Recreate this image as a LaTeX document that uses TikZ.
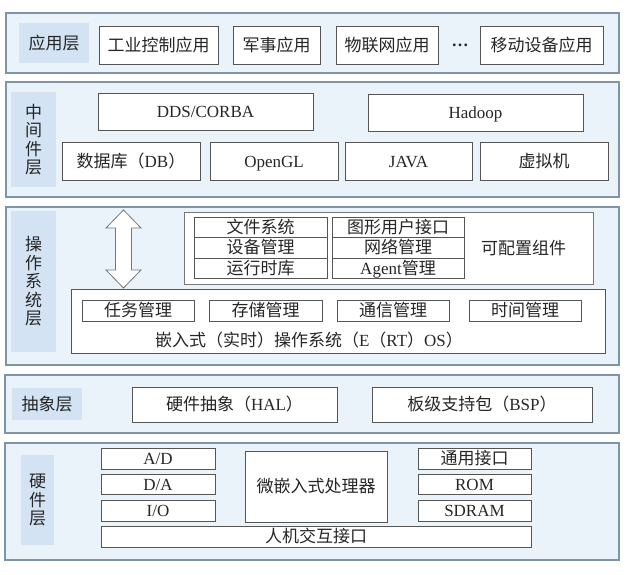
\documentclass[tikz,border=0pt]{standalone}
\usepackage{fontspec}
\setmainfont{Liberation Serif}
\newfontfamily\cjk{Noto Sans CJK SC}
\usetikzlibrary{positioning}
\definecolor{layerfill}{HTML}{EAF2FA}
\definecolor{layerline}{HTML}{7F93A9}
\definecolor{tagfill}{HTML}{D3E3F3}
\definecolor{boxline}{HTML}{555555}
\newcommand{\zh}[1]{{\cjk #1}}

\begin{document}
\begin{tikzpicture}[
  x=1pt, y=1pt,
  every node/.style={font=\fontsize{17}{18.5}\selectfont, inner sep=0pt,
                     outer sep=0pt, text=black!85},
  wh/.style 2 args={minimum width=#1pt, minimum height=#2pt},
  layer/.style={draw=layerline, fill=layerfill, line width=1.2pt, anchor=north west},
  tag/.style={fill=tagfill, anchor=north west, align=center},
  box/.style={draw=boxline, fill=white, line width=0.8pt, anchor=north west,
              align=center, text height=14.5pt, text depth=2.5pt},
  hollow/.style={draw=boxline!80, fill=white, line width=0.8pt, line join=miter}
]
  \useasboundingbox[fill=white] (0,0) rectangle (629,-574);

  % layers
  \node[layer, wh={613}{60}]  (app) at (6,-13) {};
  \node[layer, wh={613}{115}] (mid) at (6,-82) {};
  \node[layer, wh={613}{158}] (os)  at (6,-207) {};
  \node[layer, wh={614}{58}]  (abs) at (5,-375) {};
  \node[layer, wh={614}{117}] (hw)  at (5,-443) {};

  \node[tag, wh={70}{40}]  (apptag) at (19,-23)  {\zh{应用层}};
  \node[tag, wh={45}{95}]  (midtag) at (11,-92)  {\zh{中}\\\zh{间}\\\zh{件}\\\zh{层}};
  \node[tag, wh={45}{141}] (ostag)  at (11,-211) {\zh{操}\\\zh{作}\\\zh{系}\\\zh{统}\\\zh{层}};
  \node[tag, wh={70}{32}]  (abstag) at (12,-388) {\zh{抽象层}};
  \node[tag, wh={33}{90}]  (hwtag)  at (21,-455) {\zh{硬}\\\zh{件}\\\zh{层}};

  % application layer
  \node[box, wh={119}{38}] (indctl) at (99,-26)  {\zh{工业控制应用}};
  \node[box, wh={87}{38}]  (mil)    at (233,-26) {\zh{军事应用}};
  \node[box, wh={102}{38}] (iot)    at (336,-26) {\zh{物联网应用}};
  \node (dots) at (460,-45) {\textbf{…}};
  \node[box, wh={123}{38}] (mobile) at (480,-26) {\zh{移动设备应用}};

  % middleware layer
  \node[box, wh={215}{37}] (dds)    at (98,-93)   {DDS/CORBA};
  \node[box, wh={215}{37}] (hadoop) at (368,-94)  {Hadoop};
  \node[box, wh={138}{38}] (db)     at (62,-142)  {\zh{数据库（}DB\zh{）}};
  \node[box, wh={128}{38}] (opengl) at (210,-142) {OpenGL};
  \node[box, wh={127}{38}] (java)   at (345,-142) {JAVA};
  \node[box, wh={128}{38}] (vm)     at (480,-142) {\zh{虚拟机}};

  % operating system layer
  \node[box, draw=boxline!80, wh={409}{72}] (cfg) at (184,-212) {};
  \node[left=27pt of cfg.east] (cfgtxt) {\zh{可配置组件}};
  \node[box, wh={133}{20.5}] (fs)    at (194,-217)        {\zh{文件系统}};
  \node[box, wh={133}{20.5}, below=0pt of fs]  (dev)    {\zh{设备管理}};
  \node[box, wh={133}{20.5}, below=0pt of dev] (rtlib)  {\zh{运行时库}};
  \node[box, wh={132}{20.5}] (gui)   at (332,-217)        {\zh{图形用户接口}};
  \node[box, wh={132}{20.5}, below=0pt of gui] (net)    {\zh{网络管理}};
  \node[box, wh={132}{20.5}, below=0pt of net] (agent)  {Agent\zh{管理}};

  \node[box, wh={534}{64}] (kernel) at (71,-289) {};
  \node[box, wh={112}{21}] (task)  at (82,-300)  {\zh{任务管理}};
  \node[box, wh={113}{21}] (store) at (209,-300) {\zh{存储管理}};
  \node[box, wh={112}{21}] (comm)  at (337,-300) {\zh{通信管理}};
  \node[box, wh={112}{21}] (timer) at (469,-300) {\zh{时间管理}};
  \node (kerneltxt) at (309,-340)
    {\zh{嵌入式（实时）操作系统（}E\zh{（}RT\zh{）}OS\zh{）}};

  % hollow double arrow between components and kernel
  \draw[hollow] (123.5,-210) -- (141,-228) -- (131.5,-228) -- (131.5,-270)
    -- (141,-270) -- (123.5,-288) -- (106,-270) -- (115.5,-270)
    -- (115.5,-228) -- (106,-228) -- cycle;

  % abstraction layer
  \node[box, wh={205}{35}] (hal) at (132,-387) {\zh{硬件抽象（}HAL\zh{）}};
  \node[box, wh={220}{35}] (bsp) at (372,-387) {\zh{板级支持包（}BSP\zh{）}};

  % hardware layer
  \node[box, wh={114}{21}] (ad) at (101,-448) {A/D};
  \node[box, wh={114}{20}] (da) at (101,-474) {D/A};
  \node[box, wh={114}{21}] (io) at (101,-500) {I/O};
  \node[box, wh={142}{71}] (cpu) at (245,-451) {\zh{微嵌入式处理器}};
  \node[box, wh={113}{21}] (gio)   at (418,-448) {\zh{通用接口}};
  \node[box, wh={113}{20}] (rom)   at (418,-474) {ROM};
  \node[box, wh={113}{21}] (sdram) at (418,-500) {SDRAM};
  \node[box, wh={430}{21}] (hmi)   at (101,-526) {\zh{人机交互接口}};
\end{tikzpicture}
\end{document}
